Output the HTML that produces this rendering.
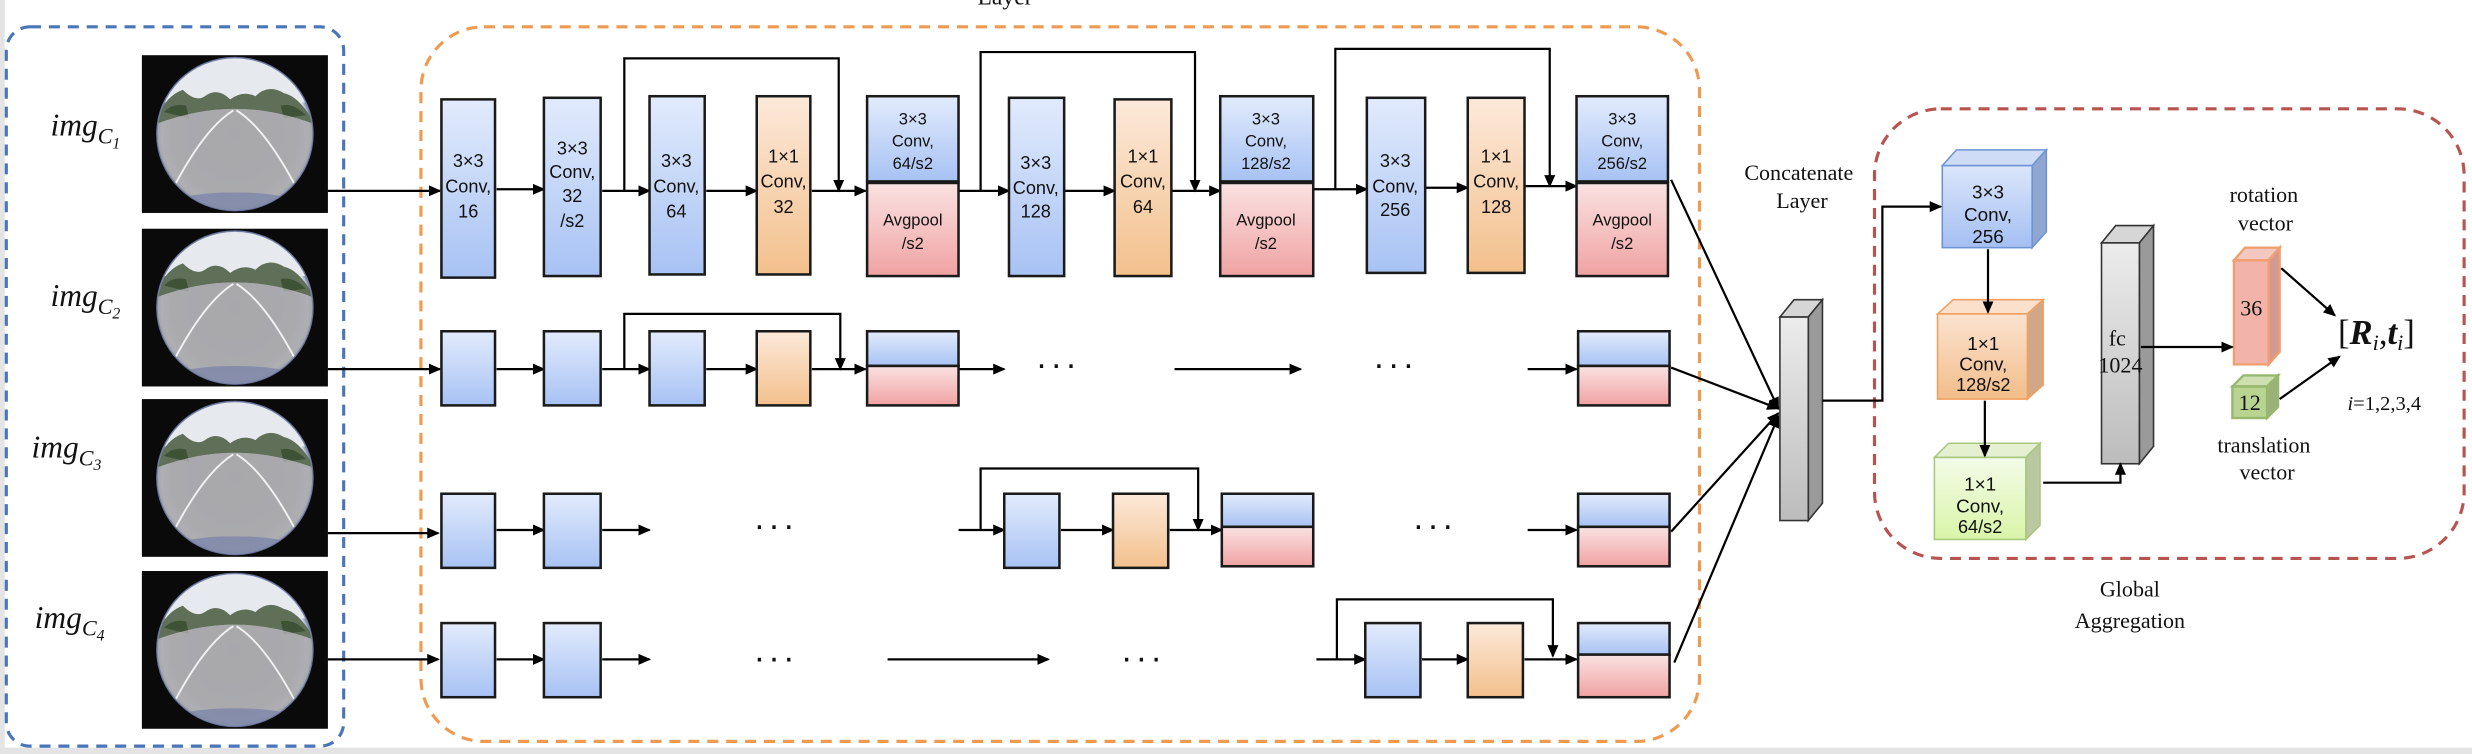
<!DOCTYPE html>
<html><head><meta charset="utf-8"><style>
html,body{margin:0;padding:0;background:#fff;}
svg{display:block;}
text{font-family:"Liberation Sans",sans-serif;fill:#111;}
.s{font-family:"Liberation Serif",serif;}
</style></head><body>
<svg width="2472" height="754" viewBox="0 0 1568 478" preserveAspectRatio="none" xmlns="http://www.w3.org/2000/svg">
<defs>
<linearGradient id="gb" x1="0" y1="0" x2="0" y2="1"><stop offset="0" stop-color="#e2ebfc"/><stop offset="1" stop-color="#a7c2f4"/></linearGradient>
<linearGradient id="go" x1="0" y1="0" x2="0" y2="1"><stop offset="0" stop-color="#fce9da"/><stop offset="1" stop-color="#f3c08c"/></linearGradient>
<linearGradient id="gp" x1="0" y1="0" x2="0" y2="1"><stop offset="0" stop-color="#fae2e2"/><stop offset="1" stop-color="#f0a2a2"/></linearGradient>
<linearGradient id="gg" x1="0" y1="0" x2="0" y2="1"><stop offset="0" stop-color="#ececec"/><stop offset="1" stop-color="#bcbcbc"/></linearGradient>
<linearGradient id="gn" x1="0" y1="0" x2="0" y2="1"><stop offset="0" stop-color="#f3fbe8"/><stop offset="1" stop-color="#d9f5a8"/></linearGradient>
<linearGradient id="gob" x1="0" y1="0" x2="0" y2="1"><stop offset="0" stop-color="#fbe3d0"/><stop offset="1" stop-color="#f2bd8a"/></linearGradient>
<linearGradient id="gbb" x1="0" y1="0" x2="0" y2="1"><stop offset="0" stop-color="#dbe6fb"/><stop offset="1" stop-color="#a4bff2"/></linearGradient>
<radialGradient id="fe" cx="0.5" cy="0.5" r="0.5"><stop offset="0" stop-color="#a6a6a8"/><stop offset="0.8" stop-color="#b4b5b9"/><stop offset="0.93" stop-color="#e4e8f0"/><stop offset="1" stop-color="#5a6690"/></radialGradient>
<clipPath id="fc"><ellipse cx="59" cy="50" rx="49" ry="48"/></clipPath>
<marker id="a" markerWidth="8" markerHeight="8" refX="7" refY="4" orient="auto" markerUnits="userSpaceOnUse"><path d="M0,0.5 L8,4 L0,7.5z" fill="#000"/></marker>
<g id="fish">
<rect x="0" y="0" width="118" height="100" fill="#0a0a0a"/>
<ellipse cx="59" cy="50" rx="50" ry="49" fill="url(#fe)"/>
<g clip-path="url(#fc)">
<rect x="0" y="0" width="118" height="30" fill="#e6e9ee"/>
<path d="M8,44 Q14,26 26,22 Q34,30 40,26 Q48,20 56,28 Q64,22 72,26 Q80,18 90,24 Q100,26 110,44 Q84,34 59,34 Q34,34 8,44z" fill="#5f6f58"/>
<path d="M14,36 Q20,30 28,32 L30,40z M88,32 Q96,30 104,38 L90,40z" fill="#3e5236"/>
<path d="M8,44 Q34,34 59,34 Q84,34 110,44 L110,100 L8,100z" fill="#a9a9ac" opacity="0.9"/>
<path d="M20,84 Q40,46 58,35 M98,84 Q78,46 60,35" fill="none" stroke="#f2f2f2" stroke-width="1.2"/>
<ellipse cx="59" cy="95" rx="42" ry="8" fill="#7580a8" opacity="0.7"/>
</g>
</g>
</defs>
<rect x="0" y="0" width="3" height="478" fill="#e4e4e4"/>
<rect x="0" y="474" width="1568" height="4" fill="#e4e4e4"/>

<rect x="4" y="17" width="214" height="456" rx="15" fill="none" stroke="#4a76b8" stroke-width="2" stroke-dasharray="7,5"/>
<use href="#fish" x="90" y="35"/>
<use href="#fish" x="90" y="145"/>
<use href="#fish" x="90" y="253"/>
<use href="#fish" x="90" y="362"/>
<text class="s" x="32" y="86" font-size="20" font-style="italic">img<tspan font-size="14" dy="5">C</tspan><tspan font-size="10" dy="3">1</tspan></text>
<text class="s" x="32" y="194" font-size="20" font-style="italic">img<tspan font-size="14" dy="5">C</tspan><tspan font-size="10" dy="3">2</tspan></text>
<text class="s" x="20" y="290" font-size="20" font-style="italic">img<tspan font-size="14" dy="5">C</tspan><tspan font-size="10" dy="3">3</tspan></text>
<text class="s" x="22" y="398" font-size="20" font-style="italic">img<tspan font-size="14" dy="5">C</tspan><tspan font-size="10" dy="3">4</tspan></text>

<rect x="267" y="17" width="811" height="453" rx="40" fill="none" stroke="#ee9a50" stroke-width="2" stroke-dasharray="7,5"/>
<text class="s" x="620" y="3" font-size="15">Layer</text>

<g stroke="#000" stroke-width="1.4" fill="none">
<line x1="208" y1="121" x2="279" y2="121" marker-end="url(#a)"/>
<line x1="208" y1="234" x2="279" y2="234" marker-end="url(#a)"/>
<line x1="208" y1="338" x2="278" y2="338" marker-end="url(#a)"/>
<line x1="208" y1="418" x2="278" y2="418" marker-end="url(#a)"/>
<line x1="315" y1="120" x2="345" y2="120" marker-end="url(#a)"/>
<line x1="382" y1="121" x2="412" y2="121" marker-end="url(#a)"/>
<line x1="448" y1="121" x2="480" y2="121" marker-end="url(#a)"/>
<line x1="515" y1="121" x2="549" y2="121" marker-end="url(#a)"/>
<polyline points="396,121 396,37 532,37 532,121" marker-end="url(#a)"/>
<line x1="608" y1="121" x2="640" y2="121" marker-end="url(#a)"/>
<line x1="675" y1="121" x2="707" y2="121" marker-end="url(#a)"/>
<line x1="743" y1="121" x2="774" y2="121" marker-end="url(#a)"/>
<polyline points="622,121 622,33 758,33 758,121" marker-end="url(#a)"/>
<line x1="833" y1="120" x2="867" y2="120" marker-end="url(#a)"/>
<line x1="904" y1="119" x2="931" y2="119" marker-end="url(#a)"/>
<line x1="967" y1="118" x2="1000" y2="118" marker-end="url(#a)"/>
<polyline points="847,120 847,31 983,31 983,118" marker-end="url(#a)"/>
<line x1="315" y1="234" x2="345" y2="234" marker-end="url(#a)"/>
<line x1="382" y1="234" x2="412" y2="234" marker-end="url(#a)"/>
<line x1="448" y1="234" x2="480" y2="234" marker-end="url(#a)"/>
<line x1="515" y1="234" x2="549" y2="234" marker-end="url(#a)"/>
<polyline points="396,234 396,199 533,199 533,234" marker-end="url(#a)"/>
<line x1="608" y1="234" x2="637" y2="234" marker-end="url(#a)"/>
<line x1="745" y1="234" x2="825" y2="234" marker-end="url(#a)"/>
<line x1="969" y1="234" x2="1000" y2="234" marker-end="url(#a)"/>
<line x1="315" y1="336" x2="345" y2="336" marker-end="url(#a)"/>
<line x1="382" y1="336" x2="412" y2="336" marker-end="url(#a)"/>
<line x1="608" y1="336" x2="637" y2="336" marker-end="url(#a)"/>
<line x1="673" y1="336" x2="706" y2="336" marker-end="url(#a)"/>
<line x1="742" y1="336" x2="775" y2="336" marker-end="url(#a)"/>
<polyline points="622,336 622,297 760,297 760,336" marker-end="url(#a)"/>
<line x1="969" y1="336" x2="1000" y2="336" marker-end="url(#a)"/>
<line x1="315" y1="418" x2="345" y2="418" marker-end="url(#a)"/>
<line x1="382" y1="418" x2="412" y2="418" marker-end="url(#a)"/>
<line x1="563" y1="418" x2="665" y2="418" marker-end="url(#a)"/>
<line x1="835" y1="418" x2="866" y2="418" marker-end="url(#a)"/>
<line x1="902" y1="418" x2="931" y2="418" marker-end="url(#a)"/>
<line x1="967" y1="418" x2="1000" y2="418" marker-end="url(#a)"/>
<polyline points="848,418 848,380 985,380 985,416" marker-end="url(#a)"/>
<line x1="1060" y1="114" x2="1128" y2="259" marker-end="url(#a)"/>
<line x1="1060" y1="233" x2="1128" y2="259" marker-end="url(#a)"/>
<line x1="1060" y1="337" x2="1128" y2="262" marker-end="url(#a)"/>
<line x1="1062" y1="420" x2="1128" y2="264" marker-end="url(#a)"/>
</g>

<g font-size="22" text-anchor="middle" letter-spacing="2">
<text x="671" y="238">···</text><text x="885" y="238">···</text>
<text x="492" y="340">···</text><text x="910" y="340">···</text>
<text x="492" y="424">···</text><text x="725" y="424">···</text>
</g>

<g stroke="#1a1a1a" stroke-width="1.6">
<rect x="280" y="63" width="34" height="113" fill="url(#gb)"/>
<rect x="345" y="62" width="36" height="113" fill="url(#gb)"/>
<rect x="412" y="61" width="35" height="113" fill="url(#gb)"/>
<rect x="480" y="61" width="34" height="113" fill="url(#go)"/>
<rect x="550" y="61" width="58" height="54" fill="url(#gb)"/><rect x="550" y="116" width="58" height="59" fill="url(#gp)"/>
<rect x="640" y="62" width="35" height="113" fill="url(#gb)"/>
<rect x="707" y="63" width="36" height="112" fill="url(#go)"/>
<rect x="774" y="61" width="59" height="54" fill="url(#gb)"/><rect x="774" y="116" width="59" height="59" fill="url(#gp)"/>
<rect x="867" y="62" width="37" height="111" fill="url(#gb)"/>
<rect x="931" y="62" width="36" height="111" fill="url(#go)"/>
<rect x="1000" y="61" width="58" height="54" fill="url(#gb)"/><rect x="1000" y="116" width="58" height="59" fill="url(#gp)"/>
<rect x="280" y="210" width="34" height="47" fill="url(#gb)"/>
<rect x="345" y="210" width="36" height="47" fill="url(#gb)"/>
<rect x="412" y="210" width="35" height="47" fill="url(#gb)"/>
<rect x="480" y="210" width="34" height="47" fill="url(#go)"/>
<rect x="550" y="210" width="58" height="22" fill="url(#gb)"/><rect x="550" y="232" width="58" height="25" fill="url(#gp)"/>
<rect x="1001" y="210" width="58" height="22" fill="url(#gb)"/><rect x="1001" y="232" width="58" height="25" fill="url(#gp)"/>
<rect x="280" y="313" width="34" height="47" fill="url(#gb)"/>
<rect x="345" y="313" width="36" height="47" fill="url(#gb)"/>
<rect x="637" y="313" width="35" height="47" fill="url(#gb)"/>
<rect x="706" y="313" width="35" height="47" fill="url(#go)"/>
<rect x="775" y="313" width="58" height="21" fill="url(#gb)"/><rect x="775" y="334" width="58" height="25" fill="url(#gp)"/>
<rect x="1001" y="313" width="58" height="21" fill="url(#gb)"/><rect x="1001" y="334" width="58" height="25" fill="url(#gp)"/>
<rect x="280" y="395" width="34" height="47" fill="url(#gb)"/>
<rect x="345" y="395" width="36" height="47" fill="url(#gb)"/>
<rect x="866" y="395" width="35" height="47" fill="url(#gb)"/>
<rect x="931" y="395" width="35" height="47" fill="url(#go)"/>
<rect x="1001" y="395" width="58" height="20" fill="url(#gb)"/><rect x="1001" y="415" width="58" height="27" fill="url(#gp)"/>
</g>

<g font-size="11.5" text-anchor="middle">
<text x="297" y="106">3×3</text><text x="297" y="122">Conv,</text><text x="297" y="138">16</text>
<text x="363" y="98">3×3</text><text x="363" y="113">Conv,</text><text x="363" y="128">32</text><text x="363" y="144">/s2</text>
<text x="429" y="106">3×3</text><text x="429" y="122">Conv,</text><text x="429" y="138">64</text>
<text x="497" y="103">1×1</text><text x="497" y="119">Conv,</text><text x="497" y="135">32</text>
<text x="579" y="79" font-size="10.5">3×3</text><text x="579" y="93" font-size="10.5">Conv,</text><text x="579" y="107" font-size="10.5">64/s2</text>
<text x="579" y="143" font-size="10.5">Avgpool</text><text x="579" y="158" font-size="10.5">/s2</text>
<text x="657" y="107">3×3</text><text x="657" y="123">Conv,</text><text x="657" y="138">128</text>
<text x="725" y="103">1×1</text><text x="725" y="119">Conv,</text><text x="725" y="135">64</text>
<text x="803" y="79" font-size="10.5">3×3</text><text x="803" y="93" font-size="10.5">Conv,</text><text x="803" y="107" font-size="10.5">128/s2</text>
<text x="803" y="143" font-size="10.5">Avgpool</text><text x="803" y="158" font-size="10.5">/s2</text>
<text x="885" y="106">3×3</text><text x="885" y="122">Conv,</text><text x="885" y="137">256</text>
<text x="949" y="103">1×1</text><text x="949" y="119">Conv,</text><text x="949" y="135">128</text>
<text x="1029" y="79" font-size="10.5">3×3</text><text x="1029" y="93" font-size="10.5">Conv,</text><text x="1029" y="107" font-size="10.5">256/s2</text>
<text x="1029" y="143" font-size="10.5">Avgpool</text><text x="1029" y="158" font-size="10.5">/s2</text>
</g>

<text class="s" x="1141" y="114" font-size="14" text-anchor="middle">Concatenate</text>
<text class="s" x="1143" y="132" font-size="14" text-anchor="middle">Layer</text>
<g stroke="#333" stroke-width="1">
<polygon points="1129,201 1138,190 1156,190 1147,201" fill="#d6d6d6"/>
<polygon points="1147,201 1156,190 1156,319 1147,330" fill="#9a9a9a"/>
<rect x="1129" y="201" width="18" height="129" fill="url(#gg)"/>
</g>

<rect x="1189" y="69" width="374" height="285" rx="42" fill="none" stroke="#b85450" stroke-width="2" stroke-dasharray="7,5"/>
<g stroke-width="1">
<polygon points="1232,105 1241,95 1298,95 1289,105" fill="#cfdcf6" stroke="#6f94d6"/>
<polygon points="1289,105 1298,95 1298,147 1289,157" fill="#8fa6d0" stroke="#6f94d6"/>
<rect x="1232" y="105" width="57" height="52" fill="url(#gbb)" stroke="#6f94d6"/>
<polygon points="1229,199 1239,190 1296,190 1286,199" fill="#fbe1cc" stroke="#f0a060"/>
<polygon points="1286,199 1296,190 1296,244 1286,253" fill="#d2a788" stroke="#f0a060"/>
<rect x="1229" y="199" width="57" height="54" fill="url(#gob)" stroke="#f0a060"/>
<polygon points="1227,290 1236,281 1294,281 1285,290" fill="#e4f0cf" stroke="#a8c880"/>
<polygon points="1285,290 1294,281 1294,333 1285,342" fill="#b9c8a0" stroke="#a8c880"/>
<rect x="1227" y="290" width="58" height="52" fill="url(#gn)" stroke="#a8c880"/>
</g>
<g font-size="12" text-anchor="middle">
<text x="1261" y="126">3×3</text><text x="1261" y="140">Conv,</text><text x="1261" y="154">256</text>
<text x="1258" y="222">1×1</text><text x="1258" y="235">Conv,</text><text x="1258" y="248" font-size="11.5">128/s2</text>
<text x="1256" y="311">1×1</text><text x="1256" y="325">Conv,</text><text x="1256" y="338" font-size="11.5">64/s2</text>
</g>
<g stroke="#333" stroke-width="1">
<polygon points="1333,154 1342,143 1366,143 1357,154" fill="#d6d6d6"/>
<polygon points="1357,154 1366,143 1366,283 1357,294" fill="#9a9a9a"/>
<rect x="1333" y="154" width="24" height="140" fill="url(#gg)"/>
</g>
<text class="s" x="1343" y="219" font-size="14" text-anchor="middle">fc</text>
<text class="s" x="1345" y="236" font-size="14" text-anchor="middle">1024</text>
<g stroke-width="1.5">
<polygon points="1417,165 1424,157 1446,157 1439,165" fill="#f4c8c0" stroke="#f0a070"/>
<polygon points="1439,165 1446,157 1446,223 1439,231" fill="#d29a90" stroke="#f0a070"/>
<rect x="1417" y="165" width="22" height="66" fill="#f2b4aa" stroke="#f0a070"/>
<polygon points="1416,245 1423,238 1445,238 1438,245" fill="#cfe0b0" stroke="#98b870"/>
<polygon points="1438,245 1445,238 1445,258 1438,265" fill="#9cb07a" stroke="#98b870"/>
<rect x="1416" y="245" width="22" height="20" fill="#b8d490" stroke="#98b870"/>
</g>
<g stroke="#000" stroke-width="1.4" fill="none">
<polyline points="1156,254 1194,254 1194,131 1231,131" marker-end="url(#a)"/>
<line x1="1261" y1="158" x2="1261" y2="198" marker-end="url(#a)"/>
<line x1="1259" y1="254" x2="1259" y2="289" marker-end="url(#a)"/>
<polyline points="1296,306 1345,306 1345,294" marker-end="url(#a)"/>
<line x1="1358" y1="220" x2="1416" y2="220" marker-end="url(#a)"/>
<line x1="1447" y1="170" x2="1481" y2="200" marker-end="url(#a)"/>
<line x1="1446" y1="253" x2="1484" y2="226" marker-end="url(#a)"/>
</g>
<text class="s" x="1428" y="200" font-size="14" text-anchor="middle">36</text>
<text class="s" x="1427" y="260" font-size="14" text-anchor="middle">12</text>
<text class="s" x="1436" y="128" font-size="14" text-anchor="middle">rotation</text>
<text class="s" x="1437" y="146" font-size="14" text-anchor="middle">vector</text>
<text class="s" x="1436" y="287" font-size="14" text-anchor="middle">translation</text>
<text class="s" x="1438" y="304" font-size="14" text-anchor="middle">vector</text>
<text class="s" x="1483" y="218" font-size="22">[<tspan font-weight="bold" font-style="italic">R</tspan><tspan font-size="14" font-style="italic" dy="4">i</tspan><tspan dy="-4">,</tspan><tspan font-weight="bold" font-style="italic">t</tspan><tspan font-size="14" font-style="italic" dy="4">i</tspan><tspan dy="-4">]</tspan></text>
<text class="s" x="1489" y="260" font-size="13"><tspan font-style="italic">i</tspan>=1,2,3,4</text>
<text class="s" x="1351" y="378" font-size="14" text-anchor="middle">Global</text>
<text class="s" x="1351" y="398" font-size="14" text-anchor="middle">Aggregation</text>
</svg>
</body></html>
